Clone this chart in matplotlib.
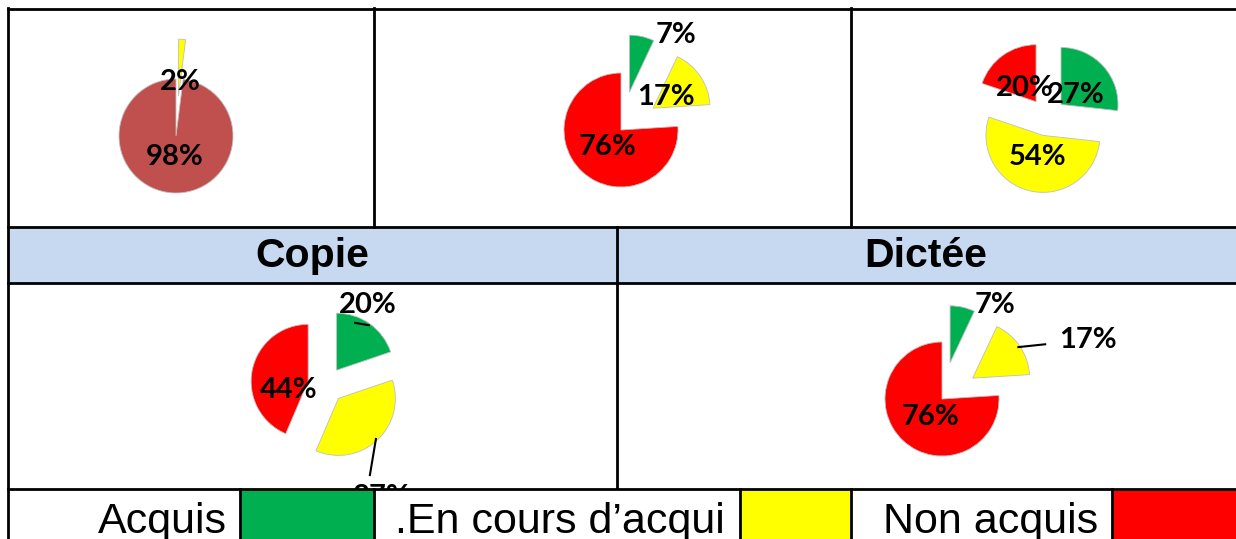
import numpy as np
import matplotlib.pyplot as plt

# data
legend_labels = ["Acquis", ".En cours d\u2019acqui", "Non acquis"]
green, yellow, red, brown = "#00B050", "#FFFF00", "#FF0000", "#C0504D"

pie1_vals = [2, 98]
pie1_cols = [yellow, brown]
pie2_vals = [7, 17, 76]
pie3_vals = [27, 54, 20]
copie_vals = [20, 37, 44]
dictee_vals = [7, 17, 76]
gyr = [green, yellow, red]
headers = ["Copie", "Dict\u00e9e"]

W, H = 1236, 539
R = 57  # pie radius in px

fig = plt.figure(figsize=(W / 100, H / 100), dpi=100)
ax = fig.add_axes([0, 0, 1, 1])
ax.set_xlim(0, W)
ax.set_ylim(H, 0)
ax.axis("off")

lw = 2.0
# table grid + header row
ax.fill_between([8, W], 227, 283, color="#C6D9F0", zorder=0)
ax.plot([8, W], [8.5, 8.5], color="black", lw=lw)
ax.plot([8, W], [227, 227], color="black", lw=lw)
ax.plot([8, W], [283, 283], color="black", lw=lw)
ax.plot([8, 8], [8, H], color="black", lw=lw)
for x in [374, 851]:
    ax.plot([x, x], [8, 227], color="black", lw=lw)
ax.plot([617, 617], [227, 489], color="black", lw=lw)
for x, t in zip([312, 926], headers):
    ax.text(x, 256, t, ha="center", va="center", fontsize=29.5,
            fontweight="bold", family="Liberation Sans")

pct_font = dict(fontsize=21, fontweight="bold", family=["Lato", "DejaVu Sans"])


def draw_pie(cx, cy, vals, cols, expl, lab_xy, leaders=()):
    half = 150
    a = fig.add_axes([(cx - half) / W, 1 - (cy + half) / H, 2 * half / W, 2 * half / H])
    wedges, _ = a.pie(vals, colors=cols, explode=expl, startangle=90,
                      counterclock=False,
                      wedgeprops=dict(edgecolor="#BFBFBF", linewidth=0.6))
    k = half / R
    a.set_xlim(-k, k)
    a.set_ylim(-k, k)
    a.axis("off")
    for v, (lx, ly) in zip(vals, lab_xy):
        a.text(lx, ly, f"{v}%", ha="center", va="center", **pct_font)
    # leader lines from the wedge edge to the label
    for i, (ex, ey) in leaders:
        w = wedges[i]
        m = np.deg2rad((w.theta1 + w.theta2) / 2)
        sx = w.center[0] + 0.97 * np.cos(m)
        sy = w.center[1] + 0.97 * np.sin(m)
        a.plot([sx, ex], [sy, ey], color="black", lw=1.5)
    return a


draw_pie(176, 136, pie1_vals, pie1_cols, [0.7, 0],
         [(0.07, 0.95), (-0.02, -0.37)])
draw_pie(621, 130, pie2_vals, gyr, [0.68, 0.68, 0],
         [(0.96, 1.67), (0.79, 0.58), (-0.23, -0.30)])
draw_pie(1047, 117, pie3_vals, gyr, [0.33, 0.33, 0.33],
         [(0.51, 0.39), (-0.16, -0.70), (-0.39, 0.51)])
draw_pie(326, 385, copie_vals, gyr, [0.32, 0.32, 0.32],
         [(0.74, 1.40), (0.98, -1.96), (-0.65, -0.09)],
         leaders=[(0, (0.51, 1.09)), (1, (0.77, -1.58))])
draw_pie(942, 399, dictee_vals, gyr, [0.65, 0.65, 0],
         [(0.93, 1.65), (2.56, 1.04), (-0.21, -0.32)],
         leaders=[(1, (1.81, 0.96))])

# legend row (drawn over the pies)
lg = fig.add_axes([0, 0, 1, 50 / H])
lg.set_xlim(0, W)
lg.set_ylim(H, 489)
lg.set_facecolor("white")
for s in lg.spines.values():
    s.set_visible(False)
lg.set_xticks([])
lg.set_yticks([])

boxes = [(240, 374), (740, 851), (1112, W)]
text_right = [227, 725, 1098]
for (x0, x1), c, t, tr in zip(boxes, gyr, legend_labels, text_right):
    lg.fill_between([x0, x1], 489, H, color=c, zorder=0)
    lg.text(tr, 533, t, ha="right", va="baseline", fontsize=31,
            family="Liberation Sans")
for x in [8, 240, 374, 740, 851, 1112]:
    lg.plot([x, x], [489, H], color="black", lw=lw, clip_on=False)
lg.plot([8, W], [489, 489], color="black", lw=lw, clip_on=False)

fig.savefig("out.png", dpi=100)
